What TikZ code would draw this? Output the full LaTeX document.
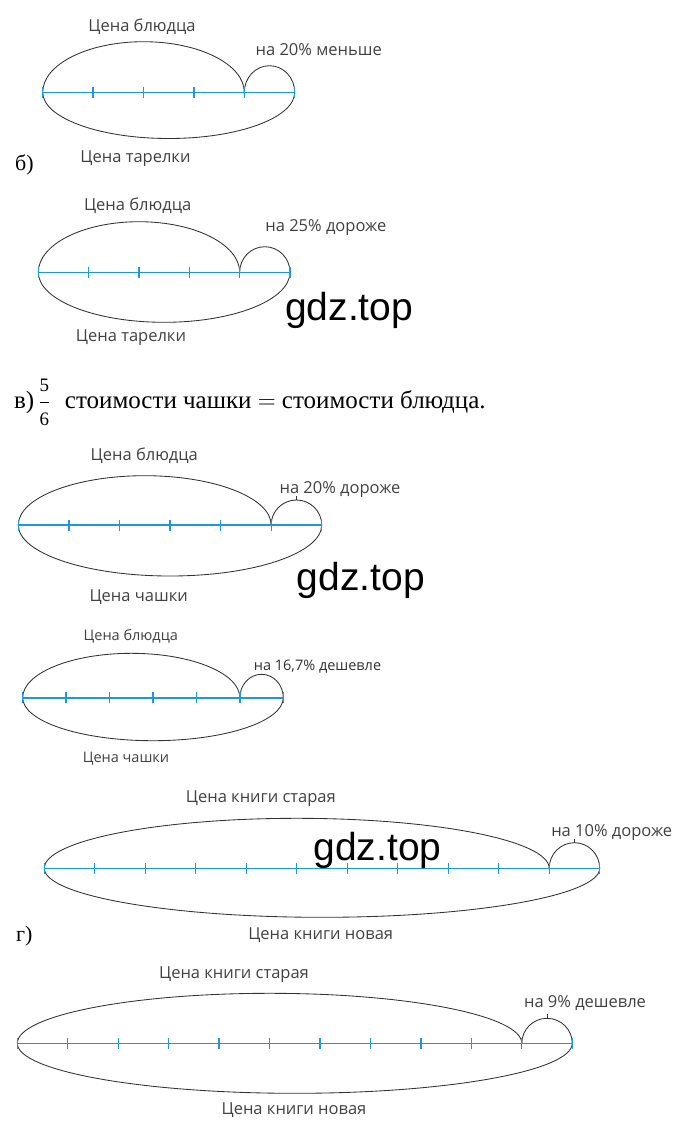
\documentclass[tikz,border=0pt]{standalone}
\usepackage{fontspec}
\setmainfont{Liberation Serif}
\newfontfamily\labfont{Open Sans}
\newfontfamily\wmfont{Liberation Sans}
\definecolor{barblue}{RGB}{32,150,222}
\definecolor{arcgray}{RGB}{50,50,50}
\definecolor{labgray}{RGB}{65,65,65}
\tikzset{
  barline/.style={draw=barblue, line width=1.6pt},
  tickline/.style={draw=barblue, line width=1.3pt},
  arcline/.style={draw=arcgray, line width=0.85pt},
  lab/.style={font=\labfont\fontsize{16.5}{18}\selectfont, text=labgray, inner sep=0pt, anchor=base},
  labsmall/.style={font=\labfont\fontsize{14.5}{16}\selectfont, text=labgray, inner sep=0pt, anchor=base},
  serif/.style={font=\fontsize{22}{24}\selectfont, text=black, inner sep=0pt, anchor=base west},
  wm/.style={font=\wmfont\fontsize{39}{40}\selectfont, text=black, inner sep=0pt, anchor=base west}
}
\newcommand\hump[4]{%
  \pgfmathsetmacro\hpA{#1}\pgfmathsetmacro\hpB{#2}%
  \pgfmathsetmacro\hpC{(#1+#2)/2}\pgfmathsetmacro\hpR{(#2-#1)/2}%
  \pgfmathsetmacro\hpT{#3-(#4)}\pgfmathsetmacro\hpM{#3-0.5523*(#4)}%
  \pgfmathsetmacro\hpL{\hpC-0.5523*\hpR}\pgfmathsetmacro\hpN{\hpC+0.5523*\hpR}%
  \draw[arcline] (\hpA,#3) .. controls (\hpA,\hpM) and (\hpL,\hpT) .. (\hpC,\hpT) .. controls (\hpN,\hpT) and (\hpB,\hpM) .. (\hpB,#3);%
}
% #1 prefix, #2 x0, #3 y, #4 step, #5 segments, #6 upper h, #7 lower h, #8 loop h
\newcommand\bardiag[8]{%
  \pgfmathsetmacro\bdX{#2}\pgfmathsetmacro\bdY{#3}%
  \pgfmathsetmacro\bdK{#2+(#5-1)*#4}%
  \pgfmathsetmacro\bdE{#2+#5*#4}%
  \pgfmathsetmacro\bdT{#3-(#8)}\pgfmathsetmacro\bdC{#2+(#5-0.5)*#4}%
  \coordinate (#1L) at (\bdX,\bdY);
  \coordinate (#1K) at (\bdK,\bdY);
  \coordinate (#1R) at (\bdE,\bdY);
  \coordinate (#1T) at (\bdC,\bdT);
  \hump{\bdX}{\bdK}{\bdY}{#6}%
  \hump{\bdX}{\bdE}{\bdY}{#7}%
  \hump{\bdK}{\bdE}{\bdY}{#8}%
  \draw[barline] (#1L) -- (#1R);
  \foreach \i in {0,...,#5}{\draw[tickline] ({#2+\i*#4},{#3-5.5}) -- ++(0,11);}
}
\begin{document}
\begin{tikzpicture}[x=1pt,y=-1pt]
\useasboundingbox (0,0) rectangle (698,1136);
\fill[white] (0,0) rectangle (698,1136);
% diagram 1
\bardiag{d1}{42.7}{92.3}{50.4}{5}{50.6}{-46.2}{26.6}
\node[lab] (d1top) at (142,31) {Цена блюдца};
\node[lab] (d1right) at (318.7,55) {на 20\% меньше};
\node[lab] (d1bot) at (135.5,162.5) {Цена тарелки};
\node[serif] (lb) at (15,170) {б)};
% diagram 2
\bardiag{d2}{38.3}{272.3}{50.34}{5}{50.6}{-50}{25.6}
\node[lab] (d2top) at (137.7,210.7) {Цена блюдца};
\node[lab] (d2right) at (325.8,231) {на 25\% дороже};
\node[lab] (d2bot) at (131,341.7) {Цена тарелки};
\node[wm] (wm1) at (285,320) {gdz.top};
% header v
\node[serif, font=\fontsize{25}{27}\selectfont] (lv) at (14,408.3) {в)\,$\displaystyle\frac{\mbox{\fontsize{19}{19}\selectfont 5}}{\mbox{\fontsize{19}{19}\selectfont 6}}$\,\, стоимости чашки $=$ стоимости блюдца.};
% diagram 3
\bardiag{d3}{18.3}{525}{50.57}{6}{49.3}{-51}{25}
\draw[arcline] (d3T) -- ++(0,-4);
\node[lab] (d3top) at (144.3,460) {Цена блюдца};
\node[lab] (d3right) at (340,493.3) {на 20\% дороже};
\node[lab] (d3bot) at (138.7,601.7) {Цена чашки};
\node[wm] (wm2) at (296.7,590) {gdz.top};
% diagram 4
\bardiag{d4}{22.7}{697.7}{43.43}{6}{44.4}{-43}{23.4}
\node[labsmall] (d4top) at (130.8,640.7) {Цена блюдца};
\node[labsmall, text=black!80] (d4right) at (317.5,670) {на 16,7\% дешевле};
\node[labsmall] (d4bot) at (126,762.7) {Цена чашки};
% diagram 5
\bardiag{d5}{44.3}{868.3}{50.49}{11}{50}{-49}{25.6}
\draw[arcline] (d5T) -- ++(0,-4);
\node[lab] (d5top) at (260.8,802.7) {Цена книги старая};
\node[lab] (d5right) at (611.7,836) {на 10\% дороже};
\node[lab] (d5bot) at (320.7,939.3) {Цена книги новая};
\node[serif] (lg) at (16,941.7) {г)};
\node[wm] (wm3) at (313.3,860) {gdz.top};
% diagram 6
\bardiag{d6}{17.3}{1043.3}{50.45}{11}{50}{-50}{25}
\draw[arcline] (d6T) -- ++(0,-4);
\node[lab] (d6top) at (234,978) {Цена книги старая};
\node[lab] (d6right) at (585,1007.7) {на 9\% дешевле};
\node[lab] (d6bot) at (294,1114.3) {Цена книги новая};
\end{tikzpicture}
\end{document}
